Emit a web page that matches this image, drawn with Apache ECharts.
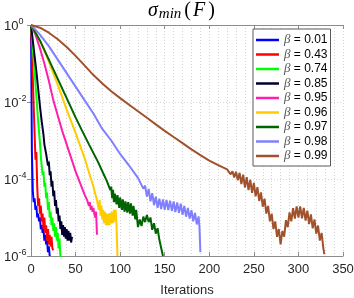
<!DOCTYPE html>
<html>
<head>
<meta charset="utf-8">
<script src="https://cdn.jsdelivr.net/npm/echarts@6/dist/echarts.min.js"></script>
<style>html,body{margin:0;padding:0;background:#fff}#c{width:354px;height:298px}</style>
</head>
<body>
<div id="c"></div>
<script>
// ---- data ----
const betaLabels = ['0.01','0.43','0.74','0.85','0.95','0.96','0.97','0.98','0.99'];
const colors = ['#0000ff','#ff0000','#00ff00','#00002e','#ff1fae','#ffcc00','#006400','#8080ff','#a0522d'];
const xTicks = [0,50,100,150,200,250,300,350];
const yTickValues = [1e0,1e-2,1e-4,1e-6];

const it001 = [0,1,2,3,4,5,6,7,8,9,10,11,12,13,14,15,16,17,18,19,20,21];
const v001 = [1,5.0e-4,5.0e-5,2.51e-5,3.16e-5,1.58e-5,2.0e-5,1.0e-5,1.26e-5,7.94e-6,1.0e-5,5.01e-6,6.31e-6,3.98e-6,5.01e-6,2.51e-6,3.55e-6,2.0e-6,2.51e-6,1.26e-6,1.78e-6,1.0e-6];

const it043 = [0,1,2,3,4,5,6,7,8,9,10,11,12,13,14,15,16,17,18,19,20,21,22,23,24,25];
const v043 = [1,0.2,0.0398,7.94e-3,1.58e-3,3.16e-4,5.01e-4,6.31e-5,2.0e-5,3.16e-5,1.26e-5,2.0e-5,7.94e-6,1.26e-5,5.01e-6,1.0e-5,3.98e-6,6.31e-6,2.51e-6,5.01e-6,2.0e-6,3.55e-6,1.78e-6,3.16e-6,1.58e-6,1.41e-6];

const it074 = [0,2,4,6,8,10,11,12,13,14,15,16,17,18,19,20,21,22,23,24,25,26,27,28,29,30,31,32,33];
const v074 = [1,0.251,0.0631,0.0141,3.16e-3,8.91e-4,3.98e-4,4.47e-4,1.26e-4,1.58e-4,6.31e-5,7.94e-5,3.16e-5,4.47e-5,1.58e-5,2.51e-5,1.0e-5,1.41e-5,6.31e-6,1.0e-5,4.47e-6,7.08e-6,3.16e-6,5.62e-6,2.51e-6,3.98e-6,1.58e-6,2.82e-6,8.91e-7];

const it085 = [0,2,4,6,8,10,12,14,15,16,17,18,19,20,21,22,23,24,25,26,27,28,29,30,31,32,33,34,35,36,37,38,39,40,41,42,43,44,45,46];
const v085 = [1,0.398,0.158,0.0631,0.0224,7.94e-3,3.16e-3,1.41e-3,7.94e-4,8.91e-4,4.47e-4,5.01e-4,2.24e-4,2.82e-4,1.26e-4,1.58e-4,6.31e-5,8.91e-5,3.55e-5,5.01e-5,2.0e-5,2.82e-5,1.26e-5,1.78e-5,7.94e-6,1.12e-5,5.01e-6,7.94e-6,3.55e-6,6.31e-6,3.16e-6,5.62e-6,2.82e-6,5.01e-6,2.51e-6,4.47e-6,2.51e-6,3.98e-6,2.24e-6,3.16e-6];

const it095 = [0,5,10,15,20,25,30,35,40,45,50,55,60,63,65,66,67,68,69,70,71,72,73,74];
const v095 = [1,0.562,0.251,0.1,0.0355,0.0112,4.47e-3,1.78e-3,7.94e-4,3.55e-4,1.58e-4,7.94e-5,3.98e-5,2.82e-5,2.0e-5,2.51e-5,1.58e-5,2.0e-5,1.41e-5,1.78e-5,1.26e-5,1.0e-5,1.41e-5,3.55e-6];

const it096 = [0,10,20,30,40,50,60,70,74,76,77,78,79,80,81,82,83,84,85,86,87,88,89,90,91,92,93,94,95,96,97];
const v096 = [1,0.398,0.112,0.0282,6.31e-3,1.58e-3,3.55e-4,6.31e-5,2.82e-5,1.58e-5,2.82e-5,1.12e-5,2.0e-5,8.91e-6,1.58e-5,7.08e-6,1.41e-5,6.31e-6,1.26e-5,6.31e-6,1.26e-5,6.31e-6,1.32e-5,7.08e-6,1.41e-5,7.08e-6,1.58e-5,7.94e-6,1.58e-5,5.62e-6,1.0e-6];

const it097 = [0,10,20,30,40,50,57,65,75,81,85,89,90,91,92,93,94,96,97,99,100,102,103,105,106,108,109,111,112,114,115,117,118,120,122,124,126,128,130,132,134,136,138,140,142,144,146,148];
const v097 = [1,0.398,0.126,0.0398,0.0126,3.98e-3,1.86e-3,7.94e-4,2.82e-4,1.41e-4,8.91e-5,5.13e-5,6.31e-5,3.16e-5,5.25e-5,2.51e-5,4.17e-5,2.19e-5,3.80e-5,1.78e-5,3.31e-5,1.58e-5,2.95e-5,1.41e-5,2.63e-5,1.35e-5,2.51e-5,1.26e-5,2.34e-5,1.12e-5,2.0e-5,8.91e-6,1.58e-5,5.62e-6,8.91e-6,6.03e-6,1.05e-5,7.59e-6,1.17e-5,7.59e-6,1.0e-5,4.79e-6,7.08e-6,3.80e-6,5.25e-6,2.63e-6,2.82e-6,1.0e-6];

const it098 = [0,10,20,30,40,50,60,70,80,90,100,110,120,126,128,130,132,134,136,138,140,142,144,146,148,150,152,154,156,158,160,162,164,166,168,170,172,174,176,178,180,182,184,186,188,189,190];
const v098 = [1,0.562,0.282,0.126,0.0562,0.0251,0.0112,5.01e-3,2.0e-3,1.0e-3,4.47e-4,2.24e-4,1.07e-4,5.62e-5,6.76e-5,3.47e-5,5.50e-5,2.63e-5,4.27e-5,2.09e-5,3.47e-5,1.78e-5,3.09e-5,1.66e-5,2.95e-5,1.58e-5,2.88e-5,1.55e-5,2.75e-5,1.48e-5,2.63e-5,1.38e-5,2.45e-5,1.32e-5,2.29e-5,1.17e-5,2.0e-5,1.05e-5,1.78e-5,9.33e-6,1.55e-5,7.94e-6,1.32e-5,6.61e-6,1.07e-5,5.62e-6,1.26e-6];

const it099 = [0,10,20,30,40,50,60,70,80,90,100,110,120,130,140,150,160,170,180,190,200,210,220,
  224,226,228,230,232,234,236,238,240,242,244,246,248,250,252,254,256,258,260,262,264,266,268,270,272,274,276,278,280,282,284,286,288,290,292,294,296,298,300,302,304,306,308,310,312,314,316,318,320,322,324,326,328,329];
const v099 = [1,0.851,0.631,0.427,0.269,0.158,0.0891,0.0501,0.0302,0.0191,0.0126,8.51e-3,5.75e-3,3.89e-3,2.63e-3,1.78e-3,1.23e-3,8.51e-4,5.89e-4,4.17e-4,3.02e-4,2.29e-4,1.78e-4,
  1.32e-4,1.58e-4,1.10e-4,1.55e-4,9.33e-5,1.45e-4,7.41e-5,1.29e-4,6.03e-5,1.12e-4,5.13e-5,9.55e-5,4.37e-5,7.94e-5,3.55e-5,6.17e-5,2.69e-5,4.47e-5,1.91e-5,3.09e-5,1.26e-5,2.0e-5,7.94e-6,1.26e-5,5.01e-6,7.94e-6,3.16e-6,5.01e-6,2.0e-6,4.47e-6,3.16e-6,8.51e-6,5.62e-6,1.35e-5,7.94e-6,1.74e-5,9.33e-6,1.95e-5,1.0e-5,1.95e-5,9.55e-6,1.78e-5,8.32e-6,1.51e-5,6.76e-6,1.20e-5,5.25e-6,8.91e-6,3.80e-6,6.17e-6,2.51e-6,3.98e-6,1.58e-6,1.12e-6];

const iterSets = [it001,it043,it074,it085,it095,it096,it097,it098,it099];
const valSets = [v001,v043,v074,v085,v095,v096,v097,v098,v099];

// ---- chart ----
const chart = echarts.init(document.getElementById('c'), null, {renderer:'canvas'});
const sans = 'Liberation Sans, Arial, Helvetica, sans-serif';
const serif = 'Liberation Serif, DejaVu Serif, serif';
const gridColor = '#d4d4d4';
const axisColor = '#8c8c8c';

const series = betaLabels.map((b, i) => ({
  name: 'β = ' + b,
  type: 'line',
  xAxisIndex: 0, yAxisIndex: 0,
  data: iterSets[i].map((x, k) => [x, valSets[i][k]]),
  showSymbol: false,
  symbol: 'none',
  lineStyle: {width: 2, color: colors[i]},
  itemStyle: {color: colors[i]},
  clip: true,
  z: 2 + i
}));

const xBase = {
  type: 'value', min: 0, max: 350, interval: 50,
  axisLine: {show: true, lineStyle: {color: axisColor, width: 1}},
  axisTick: {show: true, inside: true, length: 4, lineStyle: {color: axisColor}},
};
const yBase = {
  type: 'log', logBase: 10, min: 1e-6, max: 1, interval: 2,
  axisLine: {show: true, lineStyle: {color: axisColor, width: 1}},
  axisTick: {show: true, inside: true, length: 4, lineStyle: {color: axisColor}},
};

chart.setOption({
  animation: false,
  backgroundColor: '#fff',
  title: {
    text: '{i|σ}{sub|min}{n|(}{f|F}{n|)}',
    left: 148, top: 0, padding: 0,
    textStyle: {
      fontWeight: 'normal',
      rich: {
        i: {fontFamily: serif, fontStyle: 'italic', fontWeight: 'normal', fontSize: 20, lineHeight: 22, color: '#000'},
        f: {fontFamily: serif, fontStyle: 'italic', fontWeight: 'normal', fontSize: 20, lineHeight: 22, color: '#000', padding: [0, 3, 0, 2]},
        n: {fontFamily: serif, fontWeight: 'normal', fontSize: 20, lineHeight: 22, color: '#000'},
        sub: {fontFamily: serif, fontStyle: 'italic', fontWeight: 'normal', fontSize: 15, lineHeight: 14, verticalAlign: 'bottom', color: '#000', padding: [0, 3, 0, 1]}
      }
    }
  },
  grid: {left: 31, right: 11, top: 25, bottom: 42, containLabel: false, outerBoundsMode: 'none'},
  legend: {
    orient: 'vertical', left: 253, top: 29,
    backgroundColor: '#fff', borderColor: '#5a5a5a', borderWidth: 1,
    padding: [4, 3, 3, 3], itemGap: 0.5,
    icon: 'rect', itemWidth: 23, itemHeight: 2.5,
    data: betaLabels.map(b => 'β = ' + b),
    formatter: name => '{g|β}{t|' + name.slice(1) + '}',
    textStyle: {
      fontSize: 12, lineHeight: 14,
      rich: {
        g: {fontFamily: serif, fontStyle: 'italic', fontSize: 13, lineHeight: 14, color: '#555'},
        t: {fontFamily: sans, fontSize: 12, lineHeight: 14, color: '#000'}
      }
    },
    z: 20
  },
  xAxis: [
    Object.assign({}, xBase, {
      position: 'bottom',
      name: 'Iterations', nameLocation: 'middle', nameGap: 28,
      nameTextStyle: {fontFamily: sans, fontSize: 13, color: '#262626'},
      axisLabel: {show: true, margin: 7, fontFamily: sans, fontSize: 13, color: '#262626',
        formatter: v => xTicks.indexOf(v) >= 0 ? String(v) : ''},
      splitLine: {show: true, lineStyle: {color: gridColor, type: [1, 2], width: 1}},
      minorTick: {show: false, splitNumber: 5},
      minorSplitLine: {show: true, lineStyle: {color: gridColor, type: [1, 2], width: 1}}
    }),
    Object.assign({}, xBase, {
      position: 'top',
      axisLabel: {show: false},
      splitLine: {show: false}
    })
  ],
  yAxis: [
    Object.assign({}, yBase, {
      position: 'left',
      axisLabel: {show: true, margin: 27, align: 'left',
        formatter: v => {
          const match = yTickValues.find(t => Math.abs(Math.log10(t) - Math.log10(v)) < 1e-6);
          if (match === undefined) return '';
          const e = Math.round(Math.log10(match));
          return '{b|10}{e|' + (e === 0 ? '0' : String(e)) + '}';
        },
        rich: {
          b: {fontFamily: sans, fontSize: 13, color: '#262626', padding: [3, 0, 0, 0], verticalAlign: 'bottom'},
          e: {fontFamily: sans, fontSize: 9, color: '#262626', verticalAlign: 'top'}
        }
      },
      splitLine: {show: true, lineStyle: {color: gridColor, type: [1, 2], width: 1}}
    }),
    Object.assign({}, yBase, {
      position: 'right',
      axisLabel: {show: false},
      splitLine: {show: false}
    })
  ],
  series: series
});
</script>
</body>
</html>
